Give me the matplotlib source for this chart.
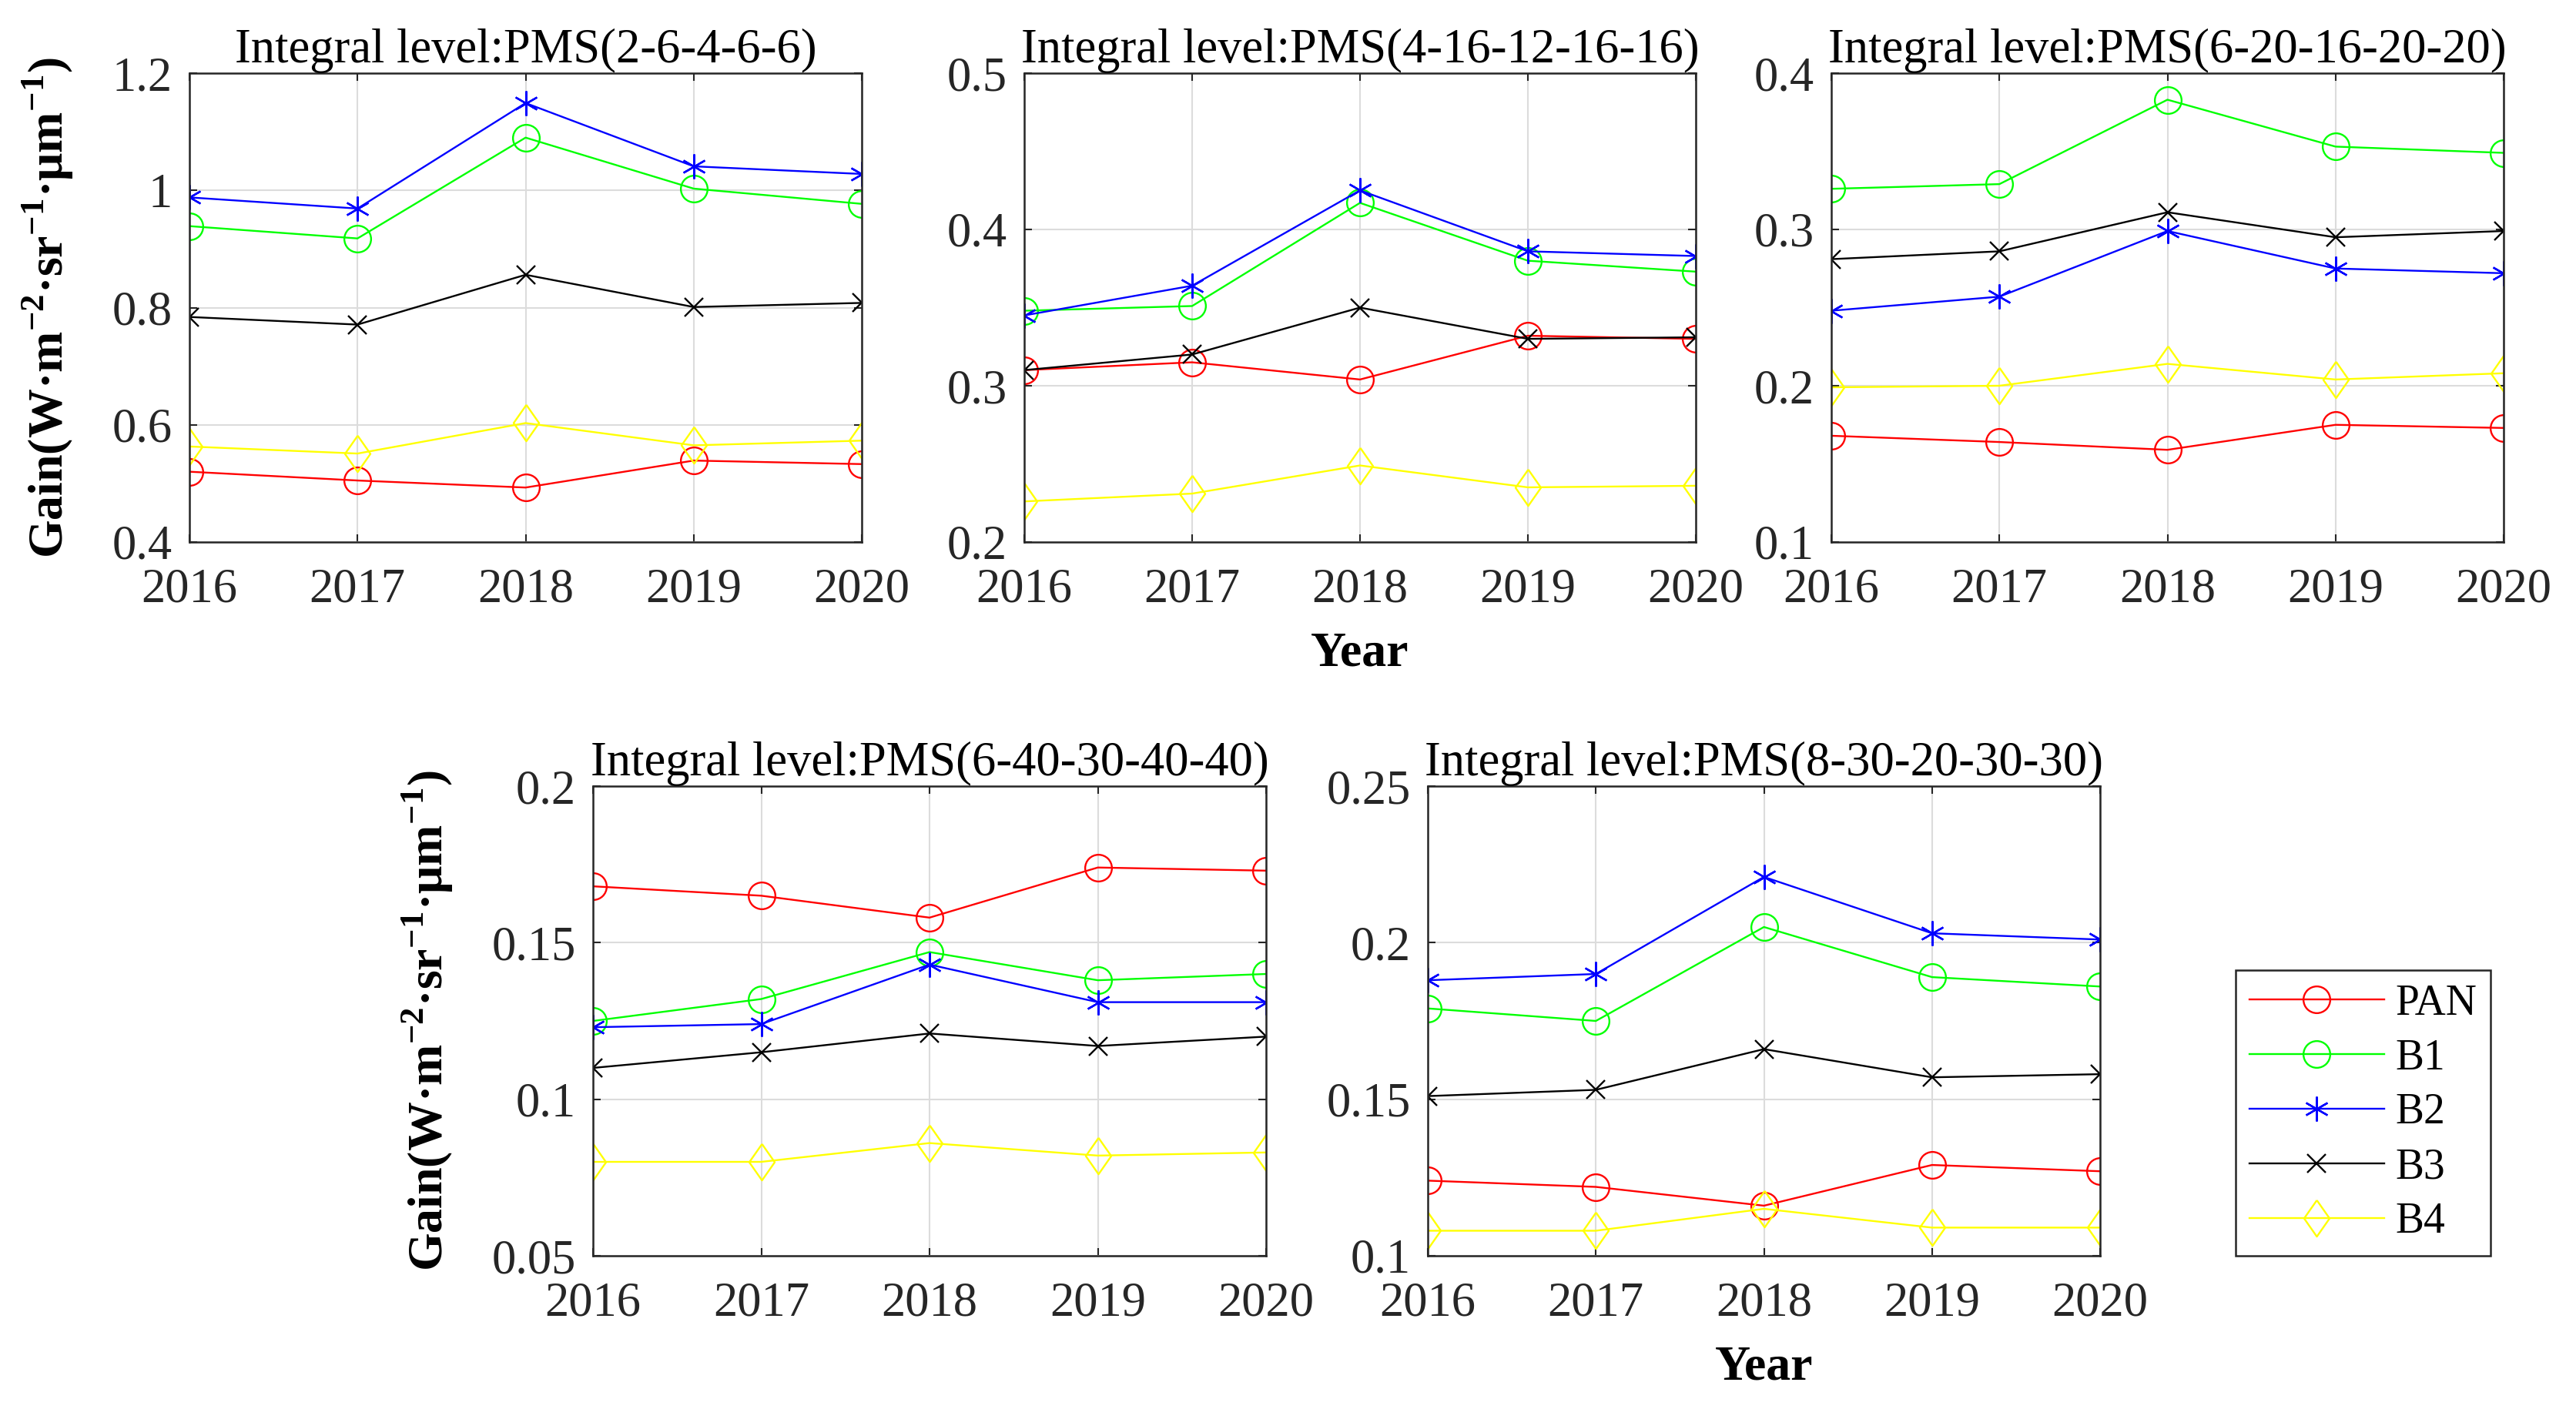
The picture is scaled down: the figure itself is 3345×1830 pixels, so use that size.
import matplotlib
matplotlib.use('Agg')
from matplotlib import pyplot as plt
from matplotlib.ticker import FormatStrFormatter

plt.rcParams['font.family'] = ['Liberation Serif', 'DejaVu Serif']
plt.rcParams['mathtext.fontset'] = 'custom'
plt.rcParams['mathtext.rm'] = 'Liberation Serif'
plt.rcParams['mathtext.bf'] = 'Liberation Serif:bold'

years = [2016, 2017, 2018, 2019, 2020]

titles = ['Integral level:PMS(2-6-4-6-6)',
          'Integral level:PMS(4-16-12-16-16)',
          'Integral level:PMS(6-20-16-20-20)',
          'Integral level:PMS(6-40-30-40-40)',
          'Integral level:PMS(8-30-20-30-30)']

# gain per panel, one row per integral level
pan = [[0.520, 0.505, 0.493, 0.539, 0.533],
       [0.310, 0.315, 0.304, 0.332, 0.330],
       [0.168, 0.164, 0.159, 0.175, 0.173],
       [0.168, 0.165, 0.158, 0.174, 0.173],
       [0.124, 0.122, 0.116, 0.129, 0.127]]
b1 = [[0.939, 0.918, 1.090, 1.003, 0.977],
      [0.348, 0.351, 0.417, 0.380, 0.373],
      [0.326, 0.329, 0.383, 0.353, 0.349],
      [0.125, 0.132, 0.147, 0.138, 0.140],
      [0.179, 0.175, 0.205, 0.189, 0.186]]
b2 = [[0.988, 0.969, 1.149, 1.041, 1.028],
      [0.345, 0.364, 0.425, 0.386, 0.383],
      [0.248, 0.257, 0.299, 0.275, 0.272],
      [0.123, 0.124, 0.143, 0.131, 0.131],
      [0.188, 0.190, 0.221, 0.203, 0.201]]
b3 = [[0.784, 0.771, 0.856, 0.801, 0.808],
      [0.310, 0.320, 0.350, 0.330, 0.331],
      [0.281, 0.286, 0.311, 0.295, 0.299],
      [0.110, 0.115, 0.121, 0.117, 0.120],
      [0.151, 0.153, 0.166, 0.157, 0.158]]
b4 = [[0.563, 0.551, 0.603, 0.565, 0.573],
      [0.226, 0.231, 0.249, 0.235, 0.236],
      [0.199, 0.200, 0.214, 0.204, 0.208],
      [0.080, 0.080, 0.086, 0.082, 0.083],
      [0.108, 0.108, 0.115, 0.109, 0.109]]

y_ticks = [[0.4, 0.6, 0.8, 1.0, 1.2],
           [0.2, 0.3, 0.4, 0.5],
           [0.1, 0.2, 0.3, 0.4],
           [0.05, 0.1, 0.15, 0.2],
           [0.1, 0.15, 0.2, 0.25]]

band_names = ['PAN', 'B1', 'B2', 'B3', 'B4']
band_data = [pan, b1, b2, b3, b4]
band_colors = ['#ff0000', '#00ff00', '#0000ff', '#000000', '#ffff00']
diamond = [(0, 1), (0.7, 0), (0, -1), (-0.7, 0), (0, 1)]
band_markers = ['o', 'o', (6, 2, 0), 'x', diamond]
marker_sizes = [25, 25, 23, 17, 34]

W, H = 3345, 1830
# axes boxes in pixels: left, top, right, bottom
boxes = [(246, 95, 1119, 704),
         (1330, 95, 2202, 704),
         (2378, 95, 3251, 704),
         (770, 1021, 1644, 1631),
         (1854, 1021, 2727, 1631)]

fig = plt.figure(figsize=(W / 100, H / 100), dpi=100)
ylab = 'Gain(W·m$^{\\mathbf{-2}}$·sr$^{\\mathbf{-1}}$·μm$^{\\mathbf{-1}}$)'
serif = 'Liberation Serif'

for i, (l, t, r, b) in enumerate(boxes):
    ax = fig.add_axes([l / W, 1 - b / H, (r - l) / W, (b - t) / H])
    for name, data, c, m, ms in zip(band_names, band_data, band_colors,
                                    band_markers, marker_sizes):
        ax.plot(years, data[i], color=c, marker=m, markersize=ms,
                markerfacecolor='none', markeredgecolor=c,
                markeredgewidth=1.7, linewidth=1.7, label=name)
    ax.set_xlim(2016, 2020)
    ax.set_ylim(y_ticks[i][0], y_ticks[i][-1])
    ax.set_xticks(years)
    ax.set_yticks(y_ticks[i])
    ax.yaxis.set_major_formatter(FormatStrFormatter('%g'))
    ax.grid(True, color='#dcdcdc', linewidth=1.5)
    ax.set_axisbelow(True)
    ax.tick_params(direction='in', length=7, width=1.5, top=True, right=True,
                   labelsize=45, colors='#262626', labelfontfamily=serif)
    ax.tick_params(axis='x', pad=24)
    ax.tick_params(axis='y', pad=16)
    for s in ax.spines.values():
        s.set_linewidth(1.8)
        s.set_color('#262626')
    ax.set_title(titles[i], fontsize=45, pad=10, family=serif)
    if i in (0, 3):
        ax.set_ylabel(ylab, fontsize=46, fontweight='bold', labelpad=34,
                      family=serif)
    if i in (1, 4):
        ax.set_xlabel('Year', fontsize=46, fontweight='bold', labelpad=18,
                      family=serif)
    if i == 4:
        handles, labels = ax.get_legend_handles_labels()

leg = fig.legend(handles, labels, loc='lower left',
                 bbox_to_anchor=(2903 / W, 1 - 1631 / H),
                 borderaxespad=0, handlelength=3.15,
                 handletextpad=0.27, labelspacing=0.34, fancybox=False,
                 framealpha=1, edgecolor='#262626', borderpad=0.32,
                 prop={'family': serif, 'size': 40})
leg.get_frame().set_linewidth(1.8)

plt.savefig('out.png', dpi=100)
